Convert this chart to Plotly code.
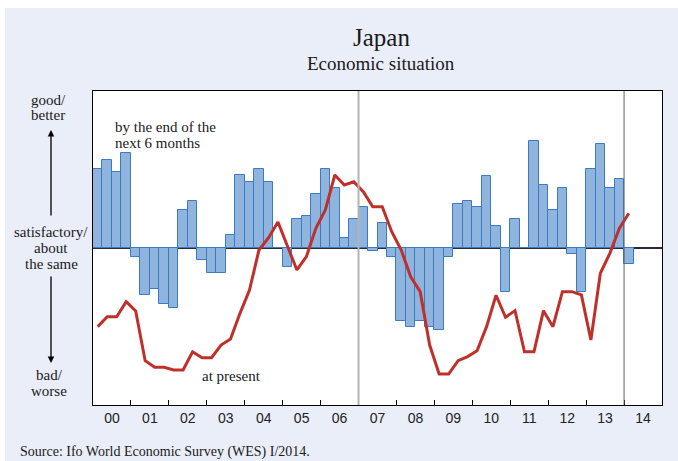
import plotly.graph_objects as go

# Ifo World Economic Survey, Japan: quarterly balances 2000Q1 .. 2014Q1
quarters = [f"{y}Q{q}" for y in range(2000, 2015) for q in range(1, 5)][:57]

# expectations: "by the end of the next 6 months" (bars)
expectations = [
    50.1, 56.2, 48.2, 60.3,      # 2000
    -5.9, -29.9, -26.1, -35.9,   # 2001
    -38.0, 24.2, 30.1, -7.8,     # 2002
    -16.1, -16.1, 8.1, 46.3,     # 2003
    42.2, 50.1, 42.2, 0.0,       # 2004
    -11.9, 18.3, 20.2, 34.2,     # 2005
    50.1, 38.0, 6.2, 18.3,       # 2006
    26.3, -1.9, 16.1, -5.9,      # 2007
    -46.3, -50.1, -46.3, -50.1,  # 2008
    -52.2, -5.9, 28.2, 30.1,     # 2009
    26.1, 46.1, 14.0, -28.0,     # 2010
    18.3, 0.0, 68.4, 40.1,       # 2011
    24.2, 38.0, -3.8, -28.0,     # 2012
    50.1, 66.2, 38.0, 44.1,      # 2013
    -10.0,                       # 2014
]

# present situation (line)
present = [
    -50.1, -43.8, -43.8, -34.2,
    -40.1, -71.8, -76.0, -76.0,
    -77.7, -77.7, -66.1, -69.9,
    -69.9, -61.8, -58.0, -41.6,
    -26.8, -1.3, 6.4, 16.6,
    1.3, -14.0, -5.5, 12.5,
    24.2, 46.5, 40.1, 42.2,
    35.9, 26.3, 26.3, 10.4,
    -1.3, -18.3, -27.8, -61.8,
    -80.3, -80.3, -71.8, -69.2,
    -65.4, -50.1, -30.1, -44.1,
    -39.9, -66.1, -66.1, -39.9,
    -50.1, -27.8, -27.8, -29.9,
    -58.6, -16.1, -3.4, 12.5,
    22.1,
]

year_labels = [f"{y % 100:02d}" for y in range(2000, 2015)]

# quarter centres in decimal years
xq = [2000.125 + 0.25 * i for i in range(len(expectations))]

W, H = 678, 461
L, R, T, B = 93, 662, 91, 405  # plot area in pixels


def px(x):
    return (x - L) / (R - L)


def py(y):
    return (B - y) / (B - T)


fig = go.Figure()

fig.add_trace(go.Bar(
    x=xq, y=expectations, width=0.25,
    marker=dict(color="#8fb5df", line=dict(color="#3c7bc1", width=1)),
    hovertext=quarters, showlegend=False,
))

fig.add_trace(go.Scatter(
    x=xq[:len(present)], y=present, mode="lines",
    line=dict(color="#c0302b", width=3),
    hovertext=quarters, showlegend=False,
))

serif = "Liberation Serif, Times New Roman, serif"
sans = "Liberation Sans, Arial, sans-serif"

shapes = [
    # white frame strips around the panel
    dict(type="rect", xref="paper", yref="paper", layer="below",
         x0=px(0), x1=px(W), y0=py(0), y1=py(8),
         fillcolor="white", line=dict(width=0)),
    dict(type="rect", xref="paper", yref="paper", layer="below",
         x0=px(0), x1=px(5), y0=py(H), y1=py(0),
         fillcolor="white", line=dict(width=0)),
    # year separators
    dict(type="line", xref="x", yref="paper", x0=2007, x1=2007, y0=0, y1=1,
         line=dict(color="#b4b4b4", width=2)),
    dict(type="line", xref="x", yref="paper", x0=2014, x1=2014, y0=0, y1=1,
         line=dict(color="#5f5f5f", width=1)),
]


def label(text, x, y, size=15, anchor="center", family=serif):
    return dict(text=text, x=px(x), y=py(y), xref="paper", yref="paper",
                xanchor=anchor, yanchor="middle", showarrow=False,
                font=dict(family=family, size=size, color="#1a1a1a"))


annotations = [
    label("Japan", 381, 38, size=25),
    label("Economic situation", 381, 63, size=19),
    label("good/", 48, 100),
    label("better", 48, 115),
    label("satisfactory/", 51, 232),
    label("about", 51, 248),
    label("the same", 51, 264),
    label("bad/", 49, 375),
    label("worse", 49, 391),
    label("by the end of the", 113, 127, anchor="left"),
    label("next 6 months", 113, 143, anchor="left"),
    label("at present", 200, 376, anchor="left"),
    label("Source: Ifo World Economic Survey (WES) I/2014.", 18, 452, size=14, anchor="left"),
    # direction arrows
    dict(text="", x=px(51), y=py(130), xref="paper", yref="paper",
         ax=0, ay=87, showarrow=True, arrowhead=2, arrowsize=1,
         arrowwidth=1.3, arrowcolor="black", standoff=0),
    dict(text="", x=px(51), y=py(363), xref="paper", yref="paper",
         ax=0, ay=-88, showarrow=True, arrowhead=2, arrowsize=1,
         arrowwidth=1.3, arrowcolor="black", standoff=0),
]

fig.update_layout(
    width=W, height=H,
    margin=dict(l=L, r=W - R, t=T, b=H - B, pad=0),
    paper_bgcolor="#eaeef9",
    plot_bgcolor="white",
    bargap=0,
    shapes=shapes,
    annotations=annotations,
    xaxis=dict(
        range=[2000, 2015], showgrid=False, zeroline=False,
        tickmode="array", tickvals=[2000.5 + i for i in range(15)],
        ticktext=year_labels, ticks="", ticklen=0,
        tickfont=dict(family=sans, size=14, color="#222222"),
        minor=dict(tickmode="array", tickvals=list(range(2001, 2015)),
                   ticks="inside", ticklen=5, tickcolor="black", tickwidth=1,
                   showgrid=False),
        showline=True, linecolor="black", linewidth=1, mirror=True,
    ),
    yaxis=dict(
        range=[-100, 100], showgrid=False, showticklabels=False, ticks="",
        zeroline=True, zerolinecolor="#2a2a35", zerolinewidth=1.5,
        showline=True, linecolor="black", linewidth=1, mirror=True,
    ),
)

fig.write_html("out.html")
